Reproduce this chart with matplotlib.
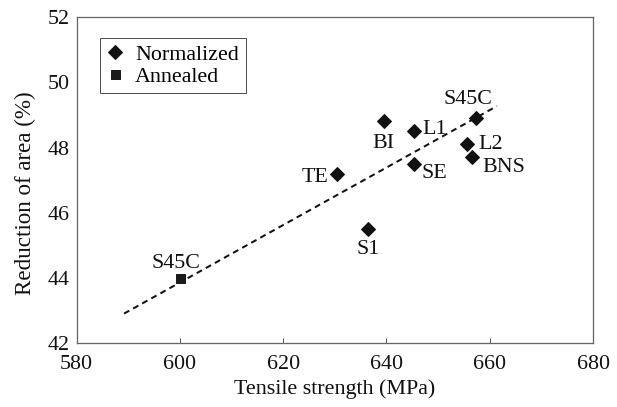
import matplotlib
matplotlib.use("Agg")
import matplotlib.pyplot as plt

# Data
norm_labels = ["S45C", "BI", "L1", "L2", "BNS", "SE", "TE", "S1"]
norm_x = [657.3, 639.5, 645.4, 655.6, 656.5, 645.3, 630.4, 636.4]
norm_y = [48.9, 48.8, 48.5, 48.1, 47.7, 47.5, 47.2, 45.5]
ann_labels = ["S45C"]
ann_x = [600.0]
ann_y = [44.0]
trend_x = [589.2, 661.4]
trend_y = [42.91, 49.27]
x_ticks = [580, 600, 620, 640, 660, 680]
y_ticks = [42, 44, 46, 48, 50, 52]

plt.rcParams['font.family'] = ['Liberation Serif', 'DejaVu Serif']
FS = 22

fig = plt.figure(figsize=(617/72, 407/72), dpi=72)
ax = fig.add_axes([76.5/617, 1-343.3/407, (593-76.5)/617, (343.3-17)/407])

ax.plot(trend_x, trend_y, color='#111111', lw=2.0, ls=(0, (3.0, 2.2)), zorder=2)
ax.plot(norm_x, norm_y, ls='none', marker='D', ms=9.5, color='#111111', label='Normalized', zorder=3)
ax.plot(ann_x, ann_y, ls='none', marker='s', ms=9, color='#1a1a1a', label='Annealed', zorder=3)

# label offsets in points (=pixels at 72 dpi): (dx, dy, ha, va)
offs = {
    "S45C": (-8, 19, 'center', 'center'),
    "BI": (0, -22, 'center', 'center'),
    "L1": (8, 2, 'left', 'center'),
    "L2": (11, 0, 'left', 'center'),
    "BNS": (11, -10, 'left', 'center'),
    "SE": (8, -10, 'left', 'center'),
    "TE": (-8, -4, 'right', 'center'),
    "S1": (0, -20, 'center', 'center'),
}
for lab, x, y in zip(norm_labels, norm_x, norm_y):
    dx, dy, ha, va = offs[lab]
    ax.annotate(lab, (x, y), xytext=(dx, dy), textcoords='offset points',
                ha=ha, va=va, fontsize=FS, color='#111111')
for lab, x, y in zip(ann_labels, ann_x, ann_y):
    ax.annotate(lab, (x, y), xytext=(-4, 15), textcoords='offset points',
                ha='center', va='center', fontsize=FS, color='#111111')

ax.set_xlim(580, 680)
ax.set_ylim(42, 52)
ax.set_xticks(x_ticks)
ax.set_yticks(y_ticks)
ax.tick_params(axis='x', direction='in', length=5, width=1, colors='#555555',
               labelsize=FS, labelcolor='#111111', pad=12)
ax.tick_params(axis='y', direction='in', length=0, labelsize=FS, labelcolor='#111111', pad=7)
for s in ax.spines.values():
    s.set_color('#666666')
    s.set_linewidth(1.3)

ax.set_xlabel('Tensile strength (MPa)', fontsize=FS, color='#111111', labelpad=5)
ax.set_ylabel('Reduction of area (%)', fontsize=23, color='#111111')
ax.yaxis.set_label_coords(-0.078, 0.46)

leg = ax.legend(loc='upper left', bbox_to_anchor=(0.0455, 0.9356), borderaxespad=0,
                fontsize=FS, frameon=True, fancybox=False, handlelength=0.8,
                handletextpad=0.5, borderpad=0.3, labelspacing=0.05)
leg.get_frame().set_edgecolor('#222222')
leg.get_frame().set_linewidth(1.0)

fig.savefig('out.png', dpi=72)
